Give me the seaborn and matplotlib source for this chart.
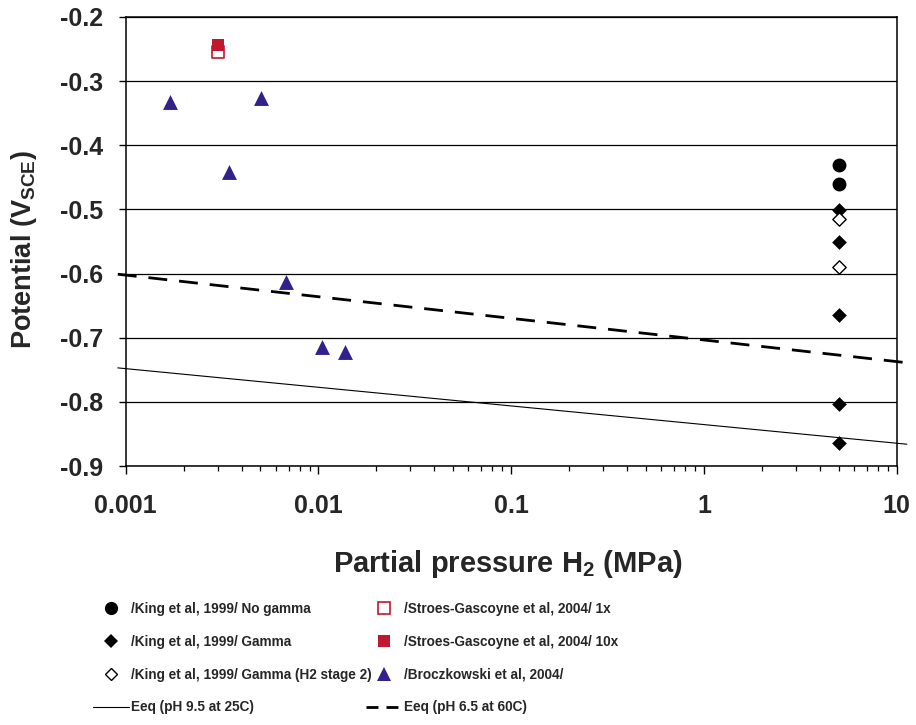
import matplotlib
matplotlib.use("Agg")
import matplotlib.pyplot as plt
from matplotlib.lines import Line2D
from matplotlib.ticker import LogLocator, FixedLocator, FuncFormatter, NullFormatter
import seaborn as sns

# ---- data ----
p_king = [5.0, 5.0]
e_king_nogamma = [-0.430, -0.461]

p_king_gamma = [5.0, 5.0, 5.0, 5.0, 5.0]
e_king_gamma = [-0.501, -0.551, -0.664, -0.803, -0.864]

p_king_stage2 = [5.0, 5.0]
e_king_stage2 = [-0.515, -0.590]

p_stroes = [0.003]
e_stroes_1x = [-0.254]
e_stroes_10x = [-0.243]

p_brocz = [0.00170, 0.00343, 0.00505, 0.00681, 0.01038, 0.01377]
e_brocz = [-0.332, -0.441, -0.327, -0.613, -0.714, -0.722]

p_eq = [0.00091, 11.3]
e_eq_25c = [-0.747, -0.866]
e_eq_60c = [-0.601, -0.739]

x_ticks = [0.001, 0.01, 0.1, 1, 10]
x_tick_labels = ["0.001", "0.01", "0.1", "1", "10"]
y_ticks = [-0.9, -0.8, -0.7, -0.6, -0.5, -0.4, -0.3, -0.2]

labels = {
    "nogamma": "/King et al, 1999/ No gamma",
    "gamma": "/King et al, 1999/ Gamma",
    "stage2": "/King et al, 1999/ Gamma (H2 stage 2)",
    "eq25": "Eeq (pH 9.5 at 25C)",
    "s1x": "/Stroes-Gascoyne et al, 2004/ 1x",
    "s10x": "/Stroes-Gascoyne et al, 2004/ 10x",
    "brocz": "/Broczkowski et al, 2004/",
    "eq60": "Eeq (pH 6.5 at 60C)",
}

RED = "#c0182f"
NAVY = "#34208a"

sns.set_theme(style="white")
plt.rcParams["font.family"] = ["Liberation Sans", "DejaVu Sans"]
plt.rcParams["font.weight"] = "bold"
plt.rcParams["axes.unicode_minus"] = False
plt.rcParams["mathtext.default"] = "regular"

fig = plt.figure(figsize=(9.16, 7.25), dpi=100)
ax = fig.add_axes([0.1372, 0.3572, 0.8417, 0.6194])

# equilibrium lines
sns.lineplot(x=p_eq, y=e_eq_25c, ax=ax, color="black", lw=0.8,
             errorbar=None, sort=False, zorder=3)
sns.lineplot(x=p_eq, y=e_eq_60c, ax=ax, color="black", lw=2.0,
             errorbar=None, sort=False, zorder=3)
ax.lines[0].set_clip_on(False)
ax.lines[1].set_clip_on(False)
ax.lines[1].set_dashes([6.8, 4.3])

# measured potentials
sns.scatterplot(x=p_king, y=e_king_nogamma, ax=ax, marker="o", s=100,
                color="black", linewidth=0, zorder=4)
sns.scatterplot(x=p_king_gamma, y=e_king_gamma, ax=ax, marker="D", s=56,
                color="black", linewidth=0, zorder=4)
sns.scatterplot(x=p_king_stage2, y=e_king_stage2, ax=ax, marker="D", s=46,
                facecolor="white", edgecolor="black", linewidth=1.0, zorder=4)
sns.scatterplot(x=p_stroes, y=e_stroes_1x, ax=ax, marker="s", s=80,
                facecolor="white", edgecolor=RED, linewidth=1.2, zorder=4)
sns.scatterplot(x=p_stroes, y=e_stroes_10x, ax=ax, marker="s", s=85,
                color=RED, linewidth=0, zorder=5)
sns.scatterplot(x=p_brocz, y=e_brocz, ax=ax, marker="^", s=115,
                color=NAVY, linewidth=0, zorder=4)

# axes
ax.set_xscale("log")
ax.set_xlim(0.001, 10)
ax.set_ylim(-0.9, -0.2)
ax.xaxis.set_major_locator(FixedLocator(x_ticks))
ax.xaxis.set_major_formatter(FuncFormatter(
    lambda v, pos: x_tick_labels[pos] if pos is not None and pos < len(x_tick_labels) else ""))
ax.xaxis.set_minor_locator(LogLocator(base=10, subs=range(2, 10)))
ax.xaxis.set_minor_formatter(NullFormatter())
ax.yaxis.set_major_locator(FixedLocator(y_ticks))
ax.yaxis.set_major_formatter(FuncFormatter(lambda v, pos: f"{v:.1f}"))

ax.grid(False)
ax.grid(True, axis="y", which="major", color="black", lw=0.9)
for sp in ax.spines.values():
    sp.set_visible(True)
    sp.set_color("black")
    sp.set_linewidth(1.1)

ax.tick_params(axis="x", which="major", direction="out", length=5.8, width=1.0,
               color="black", labelsize=18, pad=14, bottom=True)
ax.tick_params(axis="x", which="minor", direction="out", length=3.6, width=0.9,
               color="black", bottom=True)
ax.tick_params(axis="y", which="major", direction="out", length=5.0, width=1.0,
               color="black", labelsize=18, pad=11, left=True)
for t in ax.get_xticklabels() + ax.get_yticklabels():
    t.set_fontweight("bold")

ax.set_xlabel("Partial pressure H$_2$ (MPa)", fontsize=21, fontweight="bold")
ax.set_ylabel("Potential (V$_{SCE}$)", fontsize=19.5, fontweight="bold")
ax.xaxis.set_label_coords(0.496, -0.183)
ax.yaxis.set_label_coords(-0.1125, 0.483)

# legend
leg_font = {"family": ["Liberation Sans", "DejaVu Sans"], "weight": "bold", "size": 9.8}
h_left = [
    Line2D([], [], ls="none", marker="o", ms=9.5, color="black", mew=0),
    Line2D([], [], ls="none", marker="D", ms=6.8, color="black", mew=0),
    Line2D([], [], ls="none", marker="D", ms=6.0, mfc="white", mec="black", mew=1.0),
    Line2D([], [], color="black", lw=0.8),
]
h_right = [
    Line2D([], [], ls="none", marker="s", ms=8.5, mfc="white", mec=RED, mew=1.2),
    Line2D([], [], ls="none", marker="s", ms=9.0, color=RED, mew=0),
    Line2D([], [], ls="none", marker="^", ms=10.5, color=NAVY, mew=0),
    Line2D([], [], color="black", lw=2.0, dashes=[4.3, 2.9]),
]
l_left = [labels["nogamma"], labels["gamma"], labels["stage2"], labels["eq25"]]
l_right = [labels["s1x"], labels["s10x"], labels["brocz"], labels["eq60"]]

common = dict(loc="upper left", frameon=False, prop=leg_font, handlelength=2.65,
              handletextpad=0.15, labelspacing=1.38, borderpad=0, borderaxespad=0)
fig.legend(h_left, l_left, bbox_to_anchor=(93 / 916, 1 - 602 / 725), **common)
fig.legend(h_right, l_right, bbox_to_anchor=(366 / 916, 1 - 602 / 725), **common)

fig.savefig("out.png", dpi=100)
